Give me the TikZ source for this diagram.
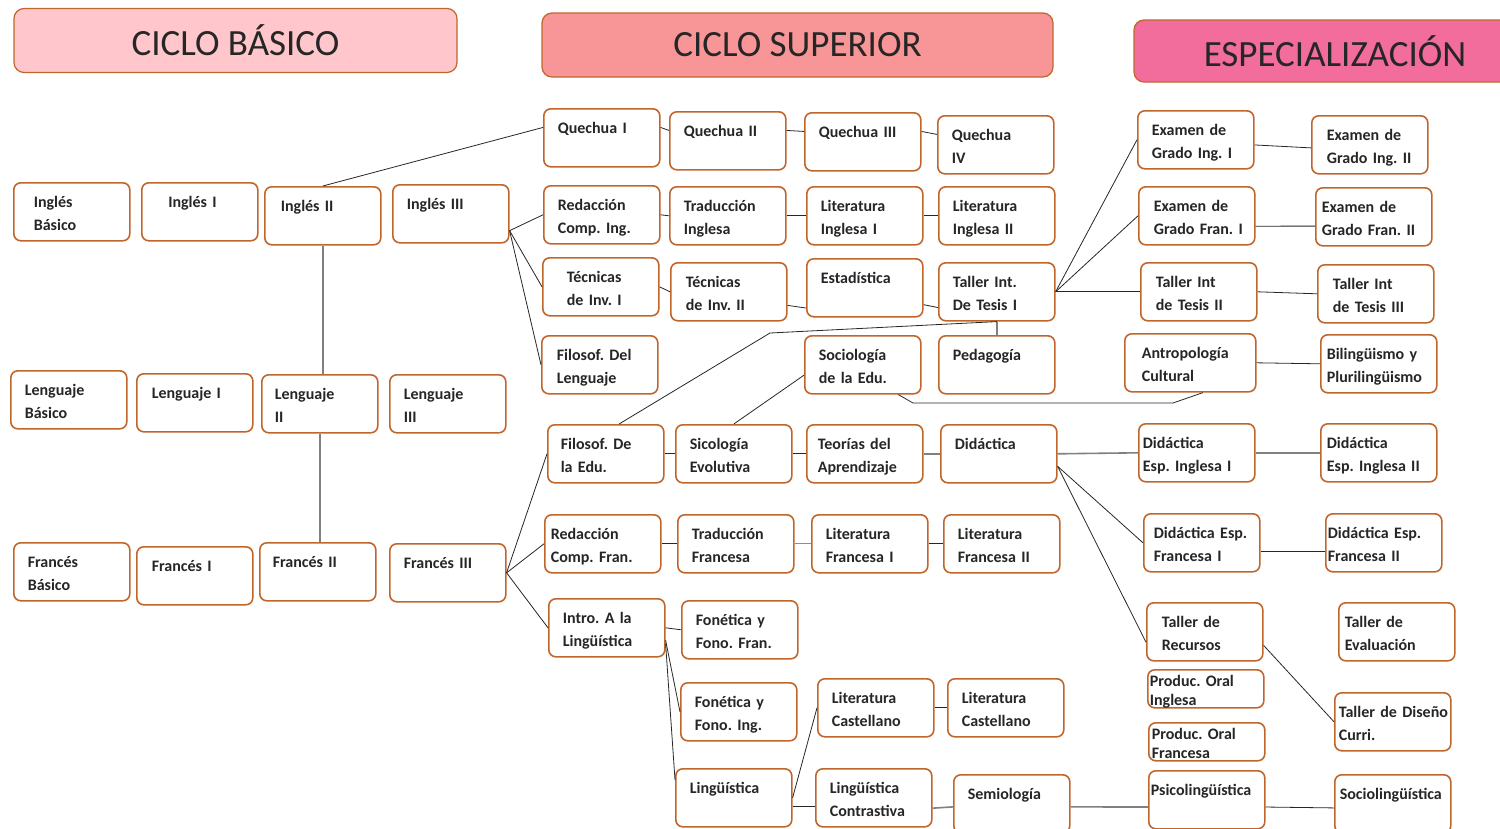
\documentclass[tikz,border=0pt]{standalone}
\usepackage{fontspec}
\setmainfont{Carlito}
\usetikzlibrary{calc}
\hyphenpenalty=10000

\definecolor{borde}{HTML}{C0662C}
\definecolor{texto}{HTML}{262626}
\definecolor{rosaA}{HTML}{FFC7CB}
\definecolor{rosaB}{HTML}{F79597}
\definecolor{rosaC}{HTML}{F26C9C}
\definecolor{lineagris}{HTML}{808080}
\definecolor{lineaazul}{HTML}{5B9BD5}

\tikzset{
  curso/.style={draw=borde, line width=1.6pt, rounded corners=7pt, fill=white,
    anchor=north west, inner sep=0pt, minimum width=116pt, text width=88pt,
    text height=25pt, text depth=33pt, align=left, text=texto,
    font=\fontsize{16}{23}\selectfont\bfseries},
  corto/.style={text height=17pt, text depth=21pt,
    font=\fontsize{16}{19}\selectfont\bfseries},
  titulo/.style={draw=borde, line width=1.2pt, rounded corners=10pt,
    minimum height=64pt, text=texto, font=\fontsize{37}{40}\selectfont},
  enlace/.style={draw=black!85, line width=0.8pt},
  enlacegris/.style={draw=lineagris, line width=1.6pt},
  enlaceazul/.style={draw=lineaazul, line width=1pt}
}

\begin{document}
\begin{tikzpicture}[x=1pt, y=-1pt]
\useasboundingbox (0,0) rectangle (1500,828);

% encabezados
\node[titulo, fill=rosaA, minimum width=443pt] (cb) at (235.5,40.5) {CICLO BÁSICO};
\node[titulo, fill=rosaB, minimum width=511pt] (cs) at (797.5,45) {CICLO SUPERIOR};
\node[titulo, fill=rosaC, minimum width=402pt, minimum height=62pt] (ce) at (1335,51) {ESPECIALIZACIÓN};

% ciclo basico
\foreach \nm/\x/\y/\tw/\tx in {
  ib/13/182/76/{Inglés\\Básico}, i1/141/182/63/{Inglés~I}, i2/264/186/84/{Inglés~II}, i3/392/184/88/{Inglés~III},
  lb/10/370/88/{Lenguaje\\Básico}, l1/136/373/86/{Lenguaje~I}, l2/261/374/90/{Lenguaje\\II}, l3/389/374/88/{Lenguaje\\III},
  fb/13/542/88/{Francés\\Básico}, f1/136/546/86/{Francés~I}, f2/259/542/90/{Francés~II}, f3/389/543/88/{Francés~III}}
  \node[curso, text width=\tw pt] (\nm) at (\x,\y) {\tx};

% ciclo superior
\node[curso] (q1) at (543,108) {Quechua~I};
\node[curso] (q2) at (669,111) {Quechua~II};
\node[curso] (q3) at (804,112) {Quechua~III};
\node[curso] (q4) at (937,115) {Quechua\\IV};
\node[curso] (ri) at (543,185) {Redacción\\Comp.~Ing.};
\node[curso] (ti) at (669,186) {Traducción\\Inglesa};
\node[curso] (li1) at (806,186) {Literatura\\Inglesa~I};
\node[curso] (li2) at (938,186) {Literatura\\Inglesa~II};
\node[curso, text width=68pt] (t1) at (542,257) {Técnicas\\de~Inv.~I};
\node[curso, text width=86pt] (t2) at (670,262) {Técnicas\\de~Inv.~II};
\node[curso] (est) at (806,258) {Estadística};
\node[curso] (tt1) at (938,262) {Taller~Int.\\De~Tesis~I};
\node[curso, text width=86pt] (fdl) at (541,335) {Filosof.~Del\\Lenguaje};
\node[curso] (soc) at (804,335) {Sociología\\de~la~Edu.};
\node[curso] (ped) at (938,335) {Pedagogía};
\node[curso, text width=90pt] (fde) at (547,424) {Filosof.~De\\la~Edu.};
\node[curso] (sic) at (675,424) {Sicología\\Evolutiva};
\node[curso, text width=94pt] (teo) at (806,424) {Teorías~del\\Aprendizaje};
\node[curso] (did) at (940,424) {Didáctica};
\node[curso, text width=104pt] (rf) at (544,514) {Redacción\\Comp.~Fran.};
\node[curso] (tf) at (677,514) {Traducción\\Francesa};
\node[curso] (lf1) at (811,514) {Literatura\\Francesa~I};
\node[curso] (lf2) at (943,514) {Literatura\\Francesa~II};
\node[curso] (intro) at (548,598) {Intro.~A~la\\Lingüística};
\node[curso] (ffr) at (681,600) {Fonética~y\\Fono.~Fran.};
\node[curso] (fin) at (680,682) {Fonética~y\\Fono.~Ing.};
\node[curso] (lin) at (675,768) {Lingüística};
\node[curso] (lc1) at (817,678) {Literatura\\Castellano};
\node[curso] (lc2) at (947,678) {Literatura\\Castellano};
\node[curso] (lcon) at (815,768) {Lingüística\\Contrastiva};
\node[curso] (sem) at (953,774) {Semiología};

% especializacion
\node[curso] (ex1) at (1137,110) {Examen~de\\Grado~Ing.~I};
\node[curso, text width=86pt] (exf1) at (1138,186) {Examen~de\\Grado~Fran.~I};
\node[curso, text width=86pt] (tt2) at (1140,262) {Taller~Int\\de~Tesis~II};
\node[curso, minimum width=131pt, text width=97pt] (ant) at (1124,333) {Antropología\\Cultural};
\node[curso, text width=108pt] (dei1) at (1138,423) {Didáctica\\Esp.~Inglesa~I};
\node[curso, text width=96pt] (dfr1) at (1143,513) {Didáctica~Esp.\\Francesa~I};
\node[curso, text width=86pt] (trec) at (1146,602) {Taller~de\\Recursos};
\node[curso, corto, text width=112pt] (poi) at (1147,669) {Produc.~Oral\\Inglesa};
\node[curso, corto, text width=110pt] (pof) at (1148,722) {Produc.~Oral\\Francesa};
\node[curso, text width=112pt] (psi) at (1148,770) {Psicolingüística};
\node[curso, text width=86pt] (ex2) at (1311,115) {Examen~de\\Grado~Ing.~II};
\node[curso, text width=104pt] (exf2) at (1315,187) {Examen~de\\Grado~Fran.~II};
\node[curso, text width=86pt] (tt3) at (1317,264) {Taller~Int\\de~Tesis~III};
\node[curso, text width=104pt] (bil) at (1320,334) {Bilingüismo~y\\Plurilingüismo};
\node[curso, text width=104pt] (dei2) at (1320,423) {Didáctica\\Esp.~Inglesa~II};
\node[curso, text width=112pt] (dfr2) at (1325,513) {Didáctica~Esp.\\Francesa~II};
\node[curso, text width=104pt] (tev) at (1338,602) {Taller~de\\Evaluación};
\node[curso, text width=108pt] (tdis) at (1334,692) {Taller~de~Diseño\\Curri.};
\node[curso, text width=106pt] (soci) at (1334,774) {Sociolingüística};

% enlaces ciclo basico
\draw[enlacegris] (i2.south) -- (i2.south |- l2.north);
\draw[enlacegris] (l2.south) -- (l2.south |- f2.north);
\draw[enlace] (i2.north) -- (q1.170);
\foreach \d in {ri.west, t1.west, fdl.west} \draw[enlace] (i3.-16) -- (\d);
\foreach \d in {fde.west, rf.west, intro.west} \draw[enlace] (f3.east) -- (\d);

% enlaces ciclo superior
\foreach \a/\b in {q1/q2, q2/q3, q3/q4} \draw[enlace] (\a.10) -- (\b.170);
\foreach \a/\b in {ri/ti, ti/li1, li1/li2, t1/t2, fde/sic, sic/teo, rf/tf, lf1/lf2, intro/ffr, lc1/lc2, tt2/tt3, ant/bil}
  \draw[enlace] (\a.east) -- (\b.west);
\draw[enlace] (t2.-13) -- (est.199);
\draw[enlace] (est.-16) -- (tt1.195);
\draw[enlaceazul] (tf.east) -- (lf1.west);
\draw[enlacegris] (teo.east) -- (did.west);
\draw[enlacegris] (tt1.south) -- (ped.north);
\coordinate (k1) at (770,333);
\draw[enlace] (fde.66) -- (k1) -- (tt1.south);
\draw[enlace] (sic.north) -- (soc.190);
\coordinate (k2) at (913,403);
\coordinate (k3) at (1173,403);
\draw[enlace] (soc.-40) -- (k2) -- (k3) -- (ant.-67);
\draw[enlace] (intro.-12) -- (fin.west);
\draw[enlace] (intro.-15) -- (lin.163);
\draw[enlace] (lin.east) -- (lc1.west);
\draw[enlace] (lin.-8) -- (lcon.188);
\draw[enlacegris] (lcon.-10) -- (sem.183);

% enlaces especializacion
\foreach \d in {ex1.west, exf1.west, tt2.west} \draw[enlace] (tt1.east) -- (\d);
\draw[enlace] (ex1.-5) -- (ex2.183);
\draw[enlace] (exf1.-10) -- (exf2.189);
\draw[enlacegris] (did.east) -- (dei1.west);
\draw[enlacegris] (dei1.east) -- (dei2.west);
\foreach \d in {dfr1.west, trec.190} \draw[enlace] (did.-12) -- (\d);
\draw[enlace] (dfr1.-8) -- (dfr2.188);
\draw[enlace] (trec.-13) -- (tdis.west);
\draw[enlacegris] (sem.-3) -- (psi.187);
\draw[enlace] (psi.-7) -- (soci.184);
\end{tikzpicture}
\end{document}
